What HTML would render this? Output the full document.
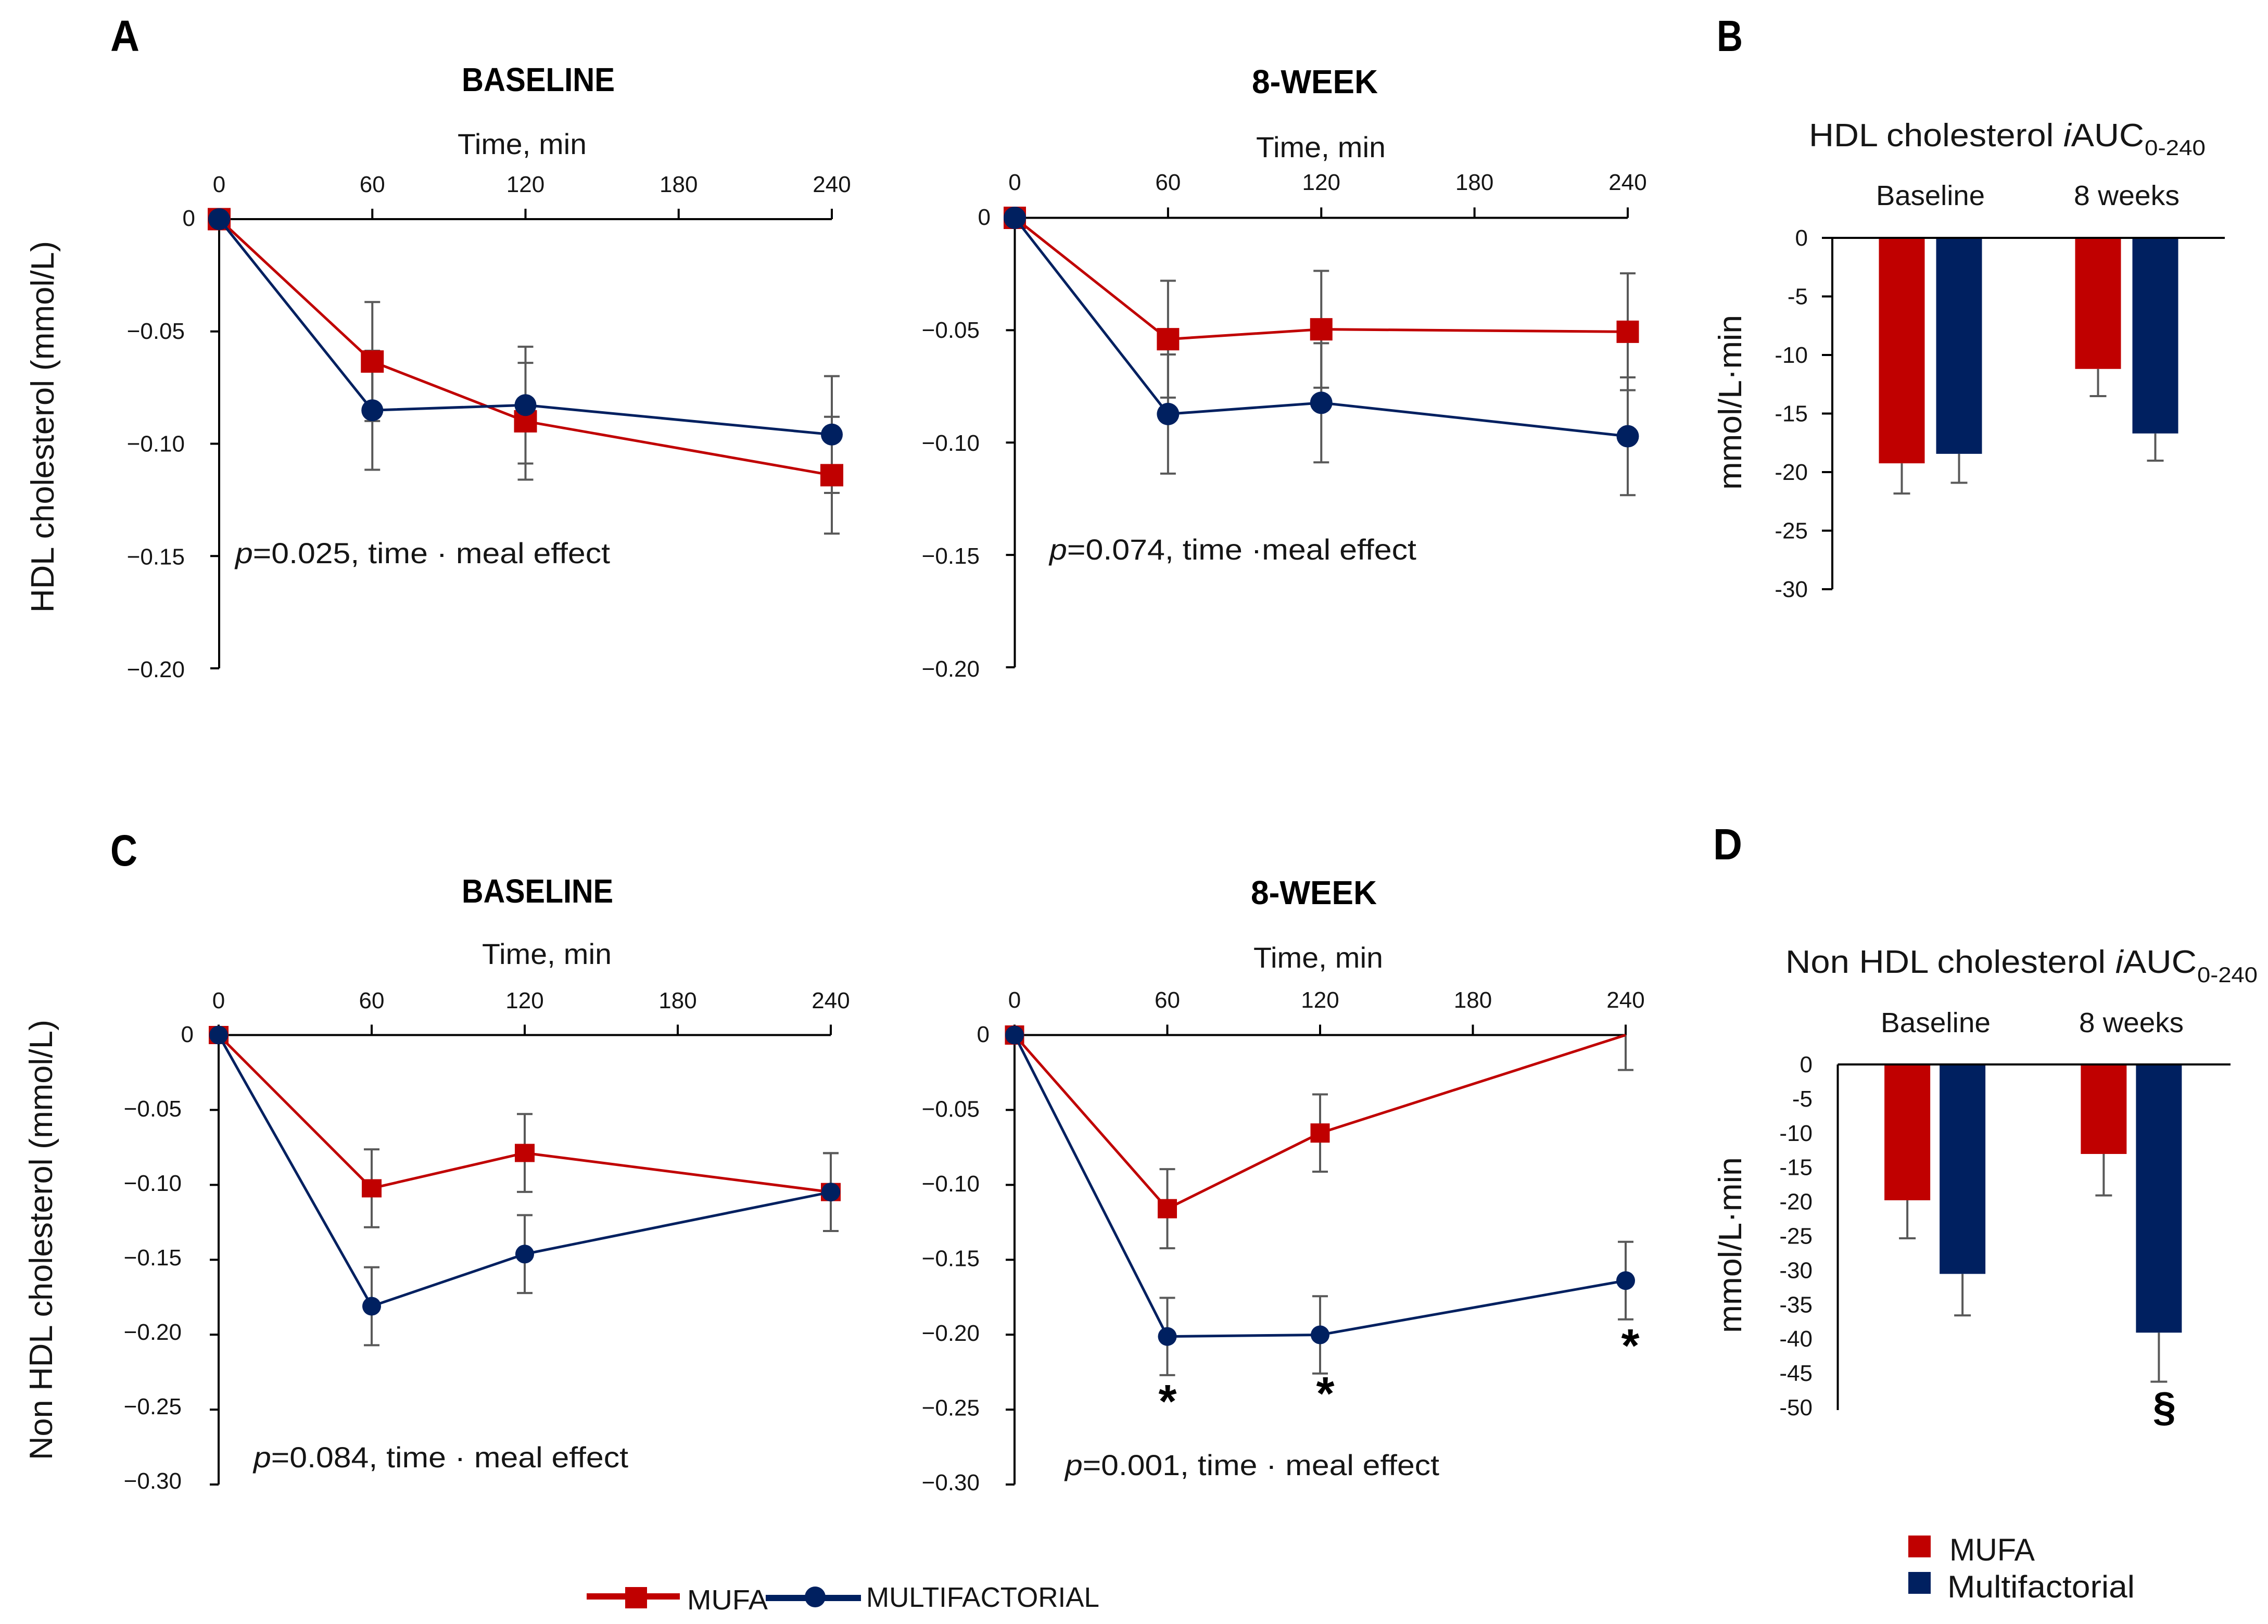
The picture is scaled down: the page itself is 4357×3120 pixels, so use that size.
<!DOCTYPE html>
<html lang="en">
<head>
<meta charset="utf-8">
<title>HDL and non-HDL cholesterol responses</title>
<style>
html,body{margin:0;padding:0;background:#fff;}
svg{display:block;}
text{font-family:"Liberation Sans",sans-serif;fill:#151515;}
.b{font-weight:bold;fill:#000;}
.t44{font-size:44px;}
.t56{font-size:56px;}
</style>
</head>
<body>
<svg id="figure" xmlns="http://www.w3.org/2000/svg" width="4357" height="3120" viewBox="0 0 4357 3120">
  <rect x="0" y="0" width="4357" height="3120" fill="#fff"/>

  <text class="b" x="212" y="98" font-size="84" textLength="56" lengthAdjust="spacingAndGlyphs">A</text>
  <text class="b" x="3298" y="98" font-size="84" textLength="50" lengthAdjust="spacingAndGlyphs">B</text>
  <text class="b" x="212" y="1663" font-size="84" textLength="52" lengthAdjust="spacingAndGlyphs">C</text>
  <text class="b" x="3291" y="1651" font-size="84" textLength="56" lengthAdjust="spacingAndGlyphs">D</text>

  <text class="b" x="887" y="175" font-size="64" textLength="294" lengthAdjust="spacingAndGlyphs">BASELINE</text>
  <text class="b" x="2405" y="179" font-size="64" textLength="242" lengthAdjust="spacingAndGlyphs">8-WEEK</text>
  <text class="b" x="887" y="1734" font-size="64" textLength="291" lengthAdjust="spacingAndGlyphs">BASELINE</text>
  <text class="b" x="2403" y="1737" font-size="64" textLength="242" lengthAdjust="spacingAndGlyphs">8-WEEK</text>

  <text class="t56" x="879" y="296" textLength="248" lengthAdjust="spacingAndGlyphs">Time, min</text>
  <text class="t56" x="2413" y="302" textLength="249" lengthAdjust="spacingAndGlyphs">Time, min</text>
  <text class="t56" x="926" y="1852" textLength="249" lengthAdjust="spacingAndGlyphs">Time, min</text>
  <text class="t56" x="2408" y="1859" textLength="249" lengthAdjust="spacingAndGlyphs">Time, min</text>

  <text font-size="62" transform="translate(103,1177) rotate(-90)" textLength="714" lengthAdjust="spacingAndGlyphs">HDL cholesterol (mmol/L)</text>
  <text font-size="62" transform="translate(100,2805) rotate(-90)" textLength="846" lengthAdjust="spacingAndGlyphs">Non HDL cholesterol (mmol/L)</text>
  <text font-size="62" transform="translate(3345,941) rotate(-90)" textLength="336" lengthAdjust="spacingAndGlyphs">mmol/L·min</text>
  <text font-size="62" transform="translate(3345,2561) rotate(-90)" textLength="338" lengthAdjust="spacingAndGlyphs">mmol/L·min</text>

  <text class="t56" x="452" y="1082" textLength="720" lengthAdjust="spacingAndGlyphs"><tspan font-style="italic">p</tspan>=0.025, time · meal effect</text>
  <text class="t56" x="2016" y="1075" textLength="705" lengthAdjust="spacingAndGlyphs"><tspan font-style="italic">p</tspan>=0.074, time ·meal effect</text>
  <text class="t56" x="487" y="2819" textLength="720" lengthAdjust="spacingAndGlyphs"><tspan font-style="italic">p</tspan>=0.084, time · meal effect</text>
  <text class="t56" x="2046" y="2834" textLength="719" lengthAdjust="spacingAndGlyphs"><tspan font-style="italic">p</tspan>=0.001, time · meal effect</text>

  <text font-size="62" x="3475" y="281" textLength="644" lengthAdjust="spacingAndGlyphs">HDL cholesterol <tspan font-style="italic">i</tspan>AUC</text>
  <text font-size="42" x="4120" y="298" textLength="117" lengthAdjust="spacingAndGlyphs">0-240</text>
  <text font-size="62" x="3430" y="1869" textLength="790" lengthAdjust="spacingAndGlyphs">Non HDL cholesterol <tspan font-style="italic">i</tspan>AUC</text>
  <text font-size="42" x="4221" y="1887" textLength="116" lengthAdjust="spacingAndGlyphs">0-240</text>

  <text font-size="54" x="3604" y="394" textLength="209" lengthAdjust="spacingAndGlyphs">Baseline</text>
  <text font-size="54" x="3984" y="394" textLength="203" lengthAdjust="spacingAndGlyphs">8 weeks</text>
  <text font-size="54" x="3613" y="1983" textLength="211" lengthAdjust="spacingAndGlyphs">Baseline</text>
  <text font-size="54" x="3994" y="1983" textLength="201" lengthAdjust="spacingAndGlyphs">8 weeks</text>

  <g id="charts"></g>

  <text class="b" x="2243" y="2723" font-size="90" text-anchor="middle">*</text>
  <text class="b" x="2546" y="2708" font-size="90" text-anchor="middle">*</text>
  <text class="b" x="3132" y="2616" font-size="90" text-anchor="middle">*</text>
  <text class="b" x="4158" y="2730" font-size="80" text-anchor="middle">§</text>

  <g>
    <rect x="1127" y="3061" width="179" height="12" fill="#C00000"/>
    <rect x="1201" y="3049" width="42" height="41" fill="#C00000"/>
    <text font-size="54" x="1320" y="3092" textLength="155" lengthAdjust="spacingAndGlyphs">MUFA</text>
    <rect x="1471" y="3064" width="183" height="12" fill="#002060"/>
    <circle cx="1566" cy="3068" r="20" fill="#002060"/>
    <text font-size="54" x="1664" y="3087" textLength="448" lengthAdjust="spacingAndGlyphs">MULTIFACTORIAL</text>
  </g>
  <g>
    <rect x="3666" y="2950" width="43" height="42" fill="#C00000"/>
    <text font-size="60" x="3745" y="2998" textLength="164" lengthAdjust="spacingAndGlyphs">MUFA</text>
    <rect x="3666" y="3020" width="43" height="42" fill="#002060"/>
    <text font-size="60" x="3741" y="3069" textLength="360" lengthAdjust="spacingAndGlyphs">Multifactorial</text>
  </g>
</svg>
<script>
const timePoints = [0, 60, 120, 240];
const xTickValues = [0, 60, 120, 180, 240];
const xTickLabels = ["0", "60", "120", "180", "240"];

const hdlYTicks = [0, -0.05, -0.10, -0.15, -0.20];
const hdlYTickLabels = ["0", "\u22120.05", "\u22120.10", "\u22120.15", "\u22120.20"];
const nonHdlYTicks = [0, -0.05, -0.10, -0.15, -0.20, -0.25, -0.30];
const nonHdlYTickLabels = ["0", "\u22120.05", "\u22120.10", "\u22120.15", "\u22120.20", "\u22120.25", "\u22120.30"];

const hdlBaseMufa = [0, -0.0634, -0.090, -0.114];
const hdlBaseMufaErr = [0, 0.0265, 0.026, 0.026];
const hdlBaseMulti = [0, -0.0851, -0.0828, -0.0959];
const hdlBaseMultiErr = [0, 0.0265, 0.026, 0.026];

const hdlWeekMufa = [0, -0.054, -0.0496, -0.0507];
const hdlWeekMufaErr = [0, 0.026, 0.026, 0.026];
const hdlWeekMulti = [0, -0.0873, -0.0823, -0.0972];
const hdlWeekMultiErr = [0, 0.0265, 0.0265, 0.0262];

const nonHdlBaseMufa = [0, -0.1023, -0.0787, -0.1048];
const nonHdlBaseMufaErr = [0, 0.026, 0.026, 0.026];
const nonHdlBaseMulti = [0, -0.181, -0.1462, -0.1048];
const nonHdlBaseMultiErr = [0, 0.026, 0.026, 0.026];

const nonHdlWeekMufa = [0, -0.1159, -0.0654, 0];
const nonHdlWeekMufaErr = [0, 0.0264, 0.0258, 0.0233];
const nonHdlWeekMulti = [0, -0.2012, -0.2001, -0.1639];
const nonHdlWeekMultiErr = [0, 0.0258, 0.0258, 0.0259];

const barGroups = ["Baseline", "8 weeks"];
const hdlAucMufa = [-19.25, -11.19];
const hdlAucMufaErr = [2.58, 2.32];
const hdlAucMulti = [-18.44, -16.7];
const hdlAucMultiErr = [2.47, 2.32];
const hdlAucYTicks = [0, -5, -10, -15, -20, -25, -30];
const hdlAucYLabels = ["0", "-5", "-10", "-15", "-20", "-25", "-30"];

const nonHdlAucMufa = [-19.65, -12.95];
const nonHdlAucMufaErr = [5.5, 6.0];
const nonHdlAucMulti = [-30.3, -38.8];
const nonHdlAucMultiErr = [6.0, 7.1];
const nonHdlAucYTicks = [0, -5, -10, -15, -20, -25, -30, -35, -40, -45, -50];
const nonHdlAucYLabels = ["0", "-5", "-10", "-15", "-20", "-25", "-30", "-35", "-40", "-45", "-50"];

const RED = "#C00000", NAVY = "#002060", GRAY = "#595959", SVGNS = "http://www.w3.org/2000/svg";
const root = document.getElementById("charts");

function node(tag, parent) {
  const el = document.createElementNS(SVGNS, tag);
  parent.appendChild(el);
  return el;
}
function drawLine(parent, x1, y1, x2, y2, stroke, width) {
  const el = node("line", parent);
  el.setAttribute("x1", x1);
  el.setAttribute("y1", y1);
  el.setAttribute("x2", x2);
  el.setAttribute("y2", y2);
  el.setAttribute("stroke", stroke);
  el.setAttribute("stroke-width", width);
  return el;
}
function drawLabel(parent, x, y, str, anchor) {
  const el = node("text", parent);
  el.setAttribute("x", x);
  el.setAttribute("y", y);
  el.setAttribute("class", "t44");
  el.setAttribute("text-anchor", anchor);
  el.textContent = str;
  return el;
}

function drawLinePanel(p) {
  const g = node("g", root);
  
  
  const xScale = t => p.x0 + (t / 240) * (p.x1 - p.x0);
  const yScale = v => p.y0 + (v / p.yMin) * (p.yB - p.y0);

  const xAxis = drawLine(g, p.x0, p.y0, p.x1, p.y0, "#000", 4);
  
  
  const yAxis = drawLine(g, p.x0, p.y0, p.x0, p.yB, "#000", 4);
  
  

  xTickValues.forEach((t, i) => {
    const tick = drawLine(g, xScale(t), p.y0 - 20, xScale(t), p.y0, "#000", 4);
    
    
    const label = drawLabel(g, xScale(t), p.tickBase, xTickLabels[i], "middle");
    
    
  });
  p.yTicks.forEach((v, i) => {
    if (i > 0) {
      const tick = drawLine(g, p.x0 - 17, yScale(v), p.x0, yScale(v), "#000", 4);
      
      
    }
    const ly = p.lTop + i * (p.lBot - p.lTop) / (p.yTicks.length - 1);
    const label = drawLabel(g, i === 0 ? p.zeroRight : p.labelRight, ly, p.yLabels[i], "end");
    
    
  });

  [[p.mufa, p.mufaErr], [p.multi, p.multiErr]].forEach(pair => {
    pair[0].forEach((v, i) => {
      const err = pair[1][i];
      if (err === 0) return;
      const x = xScale(timePoints[i]);
      const top = v + err;
      const yTop = top > 0 ? yScale(0) : yScale(top);
      const bar = drawLine(g, x, yTop, x, yScale(v - err), GRAY, 4);
      
      
      const capLow = drawLine(g, x - 15, yScale(v - err), x + 15, yScale(v - err), GRAY, 4);
      
      
      if (top <= 0) {
        const capHigh = drawLine(g, x - 15, yScale(top), x + 15, yScale(top), GRAY, 4);
        
        
      }
    });
  });

  const pts = arr => arr.map((v, i) => xScale(timePoints[i]) + "," + yScale(v)).join(" ");

  const mufaLine = node("polyline", g);
  mufaLine.setAttribute("points", pts(p.mufa));
  mufaLine.setAttribute("fill", "none");
  mufaLine.setAttribute("stroke", RED);
  mufaLine.setAttribute("stroke-width", 5);
  
  

  p.mufa.forEach((v, i) => {
    if (v === 0 && i > 0) return;
    const m = node("rect", g);
    m.setAttribute("x", xScale(timePoints[i]) - p.sqW / 2);
    m.setAttribute("y", yScale(v) - p.sqH / 2);
    m.setAttribute("width", p.sqW);
    m.setAttribute("height", p.sqH);
    m.setAttribute("fill", RED);
    
    
  });

  const multiLine = node("polyline", g);
  multiLine.setAttribute("points", pts(p.multi));
  multiLine.setAttribute("fill", "none");
  multiLine.setAttribute("stroke", NAVY);
  multiLine.setAttribute("stroke-width", 5);
  
  

  p.multi.forEach((v, i) => {
    const m = node("circle", g);
    m.setAttribute("cx", xScale(timePoints[i]));
    m.setAttribute("cy", yScale(v));
    m.setAttribute("r", p.r);
    m.setAttribute("fill", NAVY);
    
    
  });
}

function drawBarPanel(p) {
  const g = node("g", root);
  
  
  const yScale = v => p.y0 + (v / p.yMin) * (p.yB - p.y0);
  const band = (p.x1 - p.xA) / barGroups.length;
  const center = i => p.xA + (i + 0.5) * band + p.shift;

  barGroups.forEach((name, i) => {
    [[p.mufa, p.mufaErr, RED, -p.gap - p.barW, "mufa"], [p.multi, p.multiErr, NAVY, p.gap, "multifactorial"]].forEach(s => {
      const v = s[0][i];
      const left = center(i) + s[3];
      const cx = left + p.barW / 2;
      const bar = node("rect", g);
      bar.setAttribute("x", left);
      bar.setAttribute("y", p.y0);
      bar.setAttribute("width", p.barW);
      bar.setAttribute("height", yScale(v) - p.y0);
      bar.setAttribute("fill", s[2]);
      
      
      const low = yScale(v - s[1][i]);
      const whisker = drawLine(g, cx, yScale(v), cx, low, GRAY, 4);
      
      
      const cap = drawLine(g, cx - 16, low, cx + 16, low, GRAY, 4);
      
      
    });
  });

  const xAxis = drawLine(g, p.xTickStart, p.y0, p.x1, p.y0, "#000", 4);
  
  
  const yAxis = drawLine(g, p.xA, p.y0, p.xA, p.yB, "#000", 4);
  
  

  p.yTicks.forEach((v, i) => {
    if (p.ticks && i > 0) {
      const tick = drawLine(g, p.xTickStart, yScale(v), p.xA, yScale(v), "#000", 4);
      
      
    }
    const ly = p.lTop + i * (p.lBot - p.lTop) / (p.yTicks.length - 1);
    const label = drawLabel(g, p.labelRight, ly, p.yLabels[i], "end");
    
    
  });
}

drawLinePanel({name: "panel-a-baseline", x0: 421, x1: 1598, y0: 421, yB: 1284, yMin: -0.2, labelRight: 355, zeroRight: 375, lTop: 434, lBot: 1301, tickBase: 369, yTicks: hdlYTicks, yLabels: hdlYTickLabels, mufa: hdlBaseMufa, mufaErr: hdlBaseMufaErr, multi: hdlBaseMulti, multiErr: hdlBaseMultiErr, sqW: 44, sqH: 43, r: 21});
drawLinePanel({name: "panel-a-8-week", x0: 1949.5, x1: 3127, y0: 418.5, yB: 1282, yMin: -0.2, labelRight: 1882, zeroRight: 1903, lTop: 432, lBot: 1300, tickBase: 365, yTicks: hdlYTicks, yLabels: hdlYTickLabels, mufa: hdlWeekMufa, mufaErr: hdlWeekMufaErr, multi: hdlWeekMulti, multiErr: hdlWeekMultiErr, sqW: 43, sqH: 43, r: 21.5});
drawLinePanel({name: "panel-c-baseline", x0: 420, x1: 1596, y0: 1988.5, yB: 2852, yMin: -0.3, labelRight: 349, zeroRight: 372, lTop: 2002, lBot: 2860, tickBase: 1937, yTicks: nonHdlYTicks, yLabels: nonHdlYTickLabels, mufa: nonHdlBaseMufa, mufaErr: nonHdlBaseMufaErr, multi: nonHdlBaseMulti, multiErr: nonHdlBaseMultiErr, sqW: 38, sqH: 35, r: 18});
drawLinePanel({name: "panel-c-8-week", x0: 1949, x1: 3123, y0: 1988.5, yB: 2852, yMin: -0.3, labelRight: 1882, zeroRight: 1901, lTop: 2002, lBot: 2863, tickBase: 1936, yTicks: nonHdlYTicks, yLabels: nonHdlYTickLabels, mufa: nonHdlWeekMufa, mufaErr: nonHdlWeekMufaErr, multi: nonHdlWeekMulti, multiErr: nonHdlWeekMultiErr, sqW: 37, sqH: 37, r: 18});
drawBarPanel({name: "panel-b-hdl-iauc", xA: 3520, xTickStart: 3500, x1: 4274, y0: 457, yB: 1132, yMin: -30, shift: 0, gap: 11, barW: 88, labelRight: 3473, lTop: 472, lBot: 1147, ticks: true, yTicks: hdlAucYTicks, yLabels: hdlAucYLabels, mufa: hdlAucMufa, mufaErr: hdlAucMufaErr, multi: hdlAucMulti, multiErr: hdlAucMultiErr});
drawBarPanel({name: "panel-d-non-hdl-iauc", xA: 3530.5, xTickStart: 3530.5, x1: 4285, y0: 2045, yB: 2709, yMin: -50, shift: -2, gap: 9, barW: 88, labelRight: 3482, lTop: 2060, lBot: 2719, ticks: false, yTicks: nonHdlAucYTicks, yLabels: nonHdlAucYLabels, mufa: nonHdlAucMufa, mufaErr: nonHdlAucMufaErr, multi: nonHdlAucMulti, multiErr: nonHdlAucMultiErr});
</script>
</body>
</html>
